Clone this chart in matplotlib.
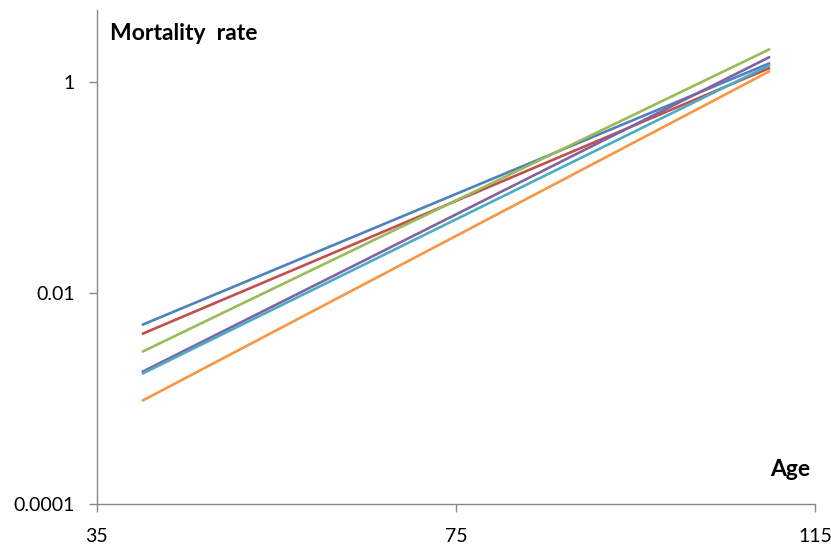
import matplotlib
matplotlib.use("Agg")
import matplotlib.pyplot as plt
from matplotlib.ticker import FixedLocator, FixedFormatter, NullLocator

ages = [40, 110]
blue = [0.00497, 1.51]
red = [0.00408, 1.36]
green = [0.00276, 2.05]
purple = [0.00178, 1.73]
teal = [0.00171, 1.45]
orange = [0.000947, 1.27]
colors = ["#4F81BD", "#C0504D", "#9BBB59", "#8064A2", "#4BACC6", "#F79646"]
y_ticks = [0.0001, 0.01, 1]
y_tick_labels = ["0.0001", "0.01", "1"]
x_ticks = [35, 75, 115]

plt.rcParams['font.family'] = ['Lato', 'DejaVu Sans']

fig = plt.figure(figsize=(8.31, 5.47), dpi=100)
W, H = 831, 547
left, right, bottom, top = 97, 815, 504, 10
ax = fig.add_axes([left / W, 1 - bottom / H, (right - left) / W, (bottom - top) / H])

for vals, c in zip([blue, red, green, purple, teal, orange], colors):
    ax.plot(ages, vals, color=c, lw=1.9, solid_capstyle='butt')

ax.set_yscale('log')
ax.set_ylim(0.0001, 4.8)
ax.set_xlim(35, 115)
ax.yaxis.set_major_locator(FixedLocator(y_ticks))
ax.yaxis.set_major_formatter(FixedFormatter(y_tick_labels))
ax.yaxis.set_minor_locator(NullLocator())
ax.set_xticks(x_ticks)
ax.set_xticklabels([str(v) for v in x_ticks])

for s in ['top', 'right']:
    ax.spines[s].set_visible(False)
for s in ['left', 'bottom']:
    ax.spines[s].set_color('#888888')
    ax.spines[s].set_linewidth(1.0)
ax.tick_params(axis='both', direction='out', length=6, width=1.0, color='#888888',
               labelsize=14, labelcolor='black')
ax.tick_params(axis='x', pad=11)
ax.tick_params(axis='y', pad=10)

fig.text(110 / W, 1 - 34 / H, "Mortality  rate", fontsize=16.5, fontweight='bold',
         ha='left', va='center')
fig.text(810 / W, 1 - 470 / H, "Age", fontsize=16.5, fontweight='bold', ha='right', va='center')

fig.savefig("out.png", dpi=100)
